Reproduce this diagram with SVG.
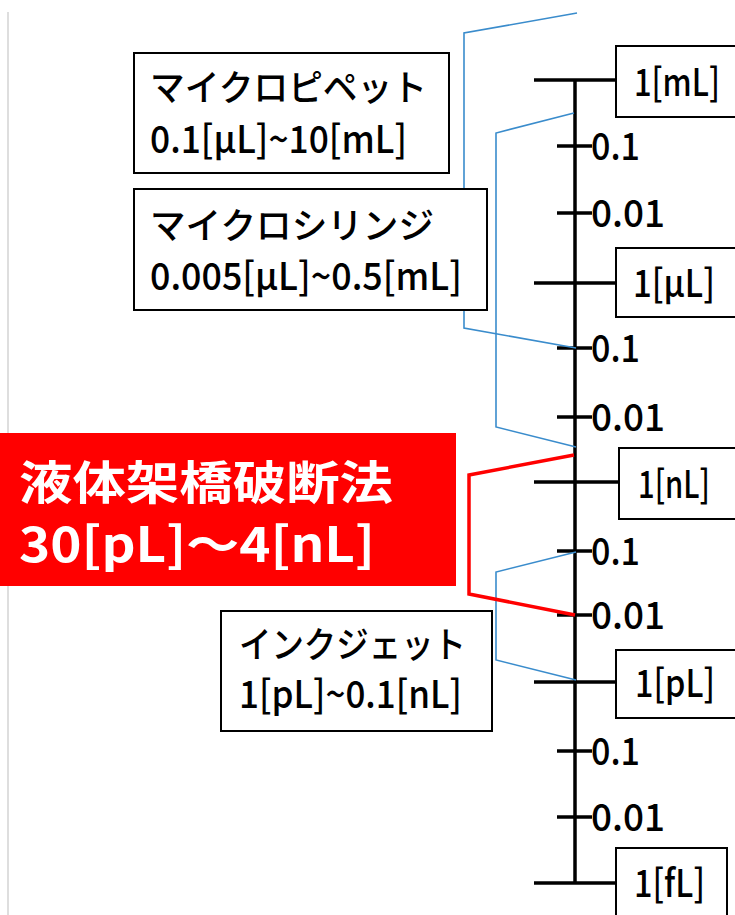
<svg xmlns="http://www.w3.org/2000/svg" width="735" height="915" viewBox="0 0 735 915">
<style>
.box{fill:#fff;stroke:#000;stroke-width:2}
.t{font-family:"Noto Sans CJK JP","Liberation Sans",sans-serif;fill:#000;font-weight:500}
.tick{stroke:#000;stroke-width:3.5;fill:none}
.blue{stroke:#3a8ccc;stroke-width:1.6;fill:none}
.red{stroke:#ff0000;stroke-width:3.5;fill:none}
.w{font-family:"Noto Sans CJK JP","Liberation Sans",sans-serif;fill:#fff;font-weight:bold}
</style>
<rect width="735" height="915" fill="#fff"/>
<line x1="8" y1="12" x2="8" y2="915" stroke="#c8c8c8" stroke-width="1.2"/>

<g id="axis">
<line class="tick" x1="575" y1="80" x2="575" y2="884"/>
<line class="tick" x1="534" y1="80" x2="616" y2="80"/>
<line class="tick" x1="534" y1="283" x2="616" y2="283"/>
<line class="tick" x1="534" y1="482" x2="619" y2="482"/>
<line class="tick" x1="534" y1="682" x2="616" y2="682"/>
<line class="tick" x1="534" y1="883" x2="616" y2="883"/>
<line class="tick" x1="557" y1="146" x2="592" y2="146"/>
<line class="tick" x1="557" y1="213" x2="592" y2="213"/>
<line class="tick" x1="557" y1="348" x2="592" y2="348"/>
<line class="tick" x1="557" y1="417" x2="592" y2="417"/>
<line class="tick" x1="557" y1="551" x2="592" y2="551"/>
<line class="tick" x1="557" y1="615" x2="592" y2="615"/>
<line class="tick" x1="557" y1="751" x2="592" y2="751"/>
<line class="tick" x1="557" y1="817" x2="592" y2="817"/>
<g class="t" font-size="38">
<text x="591" y="160" textLength="49" lengthAdjust="spacingAndGlyphs">0.1</text>
<text x="591" y="227" textLength="74" lengthAdjust="spacingAndGlyphs">0.01</text>
<text x="591" y="362" textLength="49" lengthAdjust="spacingAndGlyphs">0.1</text>
<text x="591" y="431" textLength="74" lengthAdjust="spacingAndGlyphs">0.01</text>
<text x="591" y="565" textLength="49" lengthAdjust="spacingAndGlyphs">0.1</text>
<text x="591" y="629" textLength="74" lengthAdjust="spacingAndGlyphs">0.01</text>
<text x="591" y="765" textLength="49" lengthAdjust="spacingAndGlyphs">0.1</text>
<text x="591" y="831" textLength="74" lengthAdjust="spacingAndGlyphs">0.01</text>
</g>
</g>

<g id="unit-mL"><rect class="box" x="616" y="46" width="121" height="71"/><text class="t" font-size="38" x="634" y="96" textLength="86" lengthAdjust="spacingAndGlyphs">1[mL]</text></g>
<g id="unit-uL"><rect class="box" x="616" y="248" width="121" height="69"/><text class="t" font-size="38" x="633" y="297" textLength="82" lengthAdjust="spacingAndGlyphs">1[μL]</text></g>
<g id="unit-nL"><rect class="box" x="619" y="448" width="118" height="71"/><text class="t" font-size="38" x="638" y="498" textLength="72" lengthAdjust="spacingAndGlyphs">1[nL]</text></g>
<g id="unit-pL"><rect class="box" x="616" y="650" width="121" height="68"/><text class="t" font-size="38" x="635" y="697" textLength="80" lengthAdjust="spacingAndGlyphs">1[pL]</text></g>
<g id="unit-fL"><rect class="box" x="616" y="848" width="111" height="80"/><text class="t" font-size="38" x="634" y="897" textLength="71" lengthAdjust="spacingAndGlyphs">1[fL]</text></g>

<g id="connectors">
<polyline class="blue" points="577,13 464,33 464,328 576,348"/>
<polyline class="blue" points="574,113 496,133 496,427 576,447"/>
<polyline class="blue" points="576,552 496,572 496,660 576,680"/>
<polyline class="red" points="574,455 469,475 469,594 575,615"/>
</g>

<g id="micropipette">
<rect class="box" x="134" y="53" width="315" height="120"/>
<text class="t" font-size="36" x="150" y="101" textLength="277" lengthAdjust="spacingAndGlyphs">マイクロピペット</text>
<text class="t" font-size="38" x="150" y="153" textLength="257" lengthAdjust="spacingAndGlyphs">0.1[μL]~10[mL]</text>
</g>

<g id="microsyringe">
<rect class="box" x="134" y="189" width="353" height="121"/>
<text class="t" font-size="36" x="150" y="239" textLength="284" lengthAdjust="spacingAndGlyphs">マイクロシリンジ</text>
<text class="t" font-size="38" x="150" y="290" textLength="312" lengthAdjust="spacingAndGlyphs">0.005[μL]~0.5[mL]</text>
</g>

<g id="liquid-bridge">
<rect x="0" y="433" width="456" height="153" fill="#ff0000"/>
<text class="w" font-size="46" x="19" y="499" textLength="374" lengthAdjust="spacingAndGlyphs">液体架橋破断法</text>
<text class="w" font-size="48" x="19" y="562" textLength="356" lengthAdjust="spacingAndGlyphs">30[pL]～4[nL]</text>
</g>

<g id="inkjet">
<rect class="box" x="221" y="611" width="271" height="120"/>
<text class="t" font-size="36" x="239" y="658" textLength="227" lengthAdjust="spacingAndGlyphs">インクジェット</text>
<text class="t" font-size="38" x="239" y="708" textLength="223" lengthAdjust="spacingAndGlyphs">1[pL]~0.1[nL]</text>
</g>
</svg>
